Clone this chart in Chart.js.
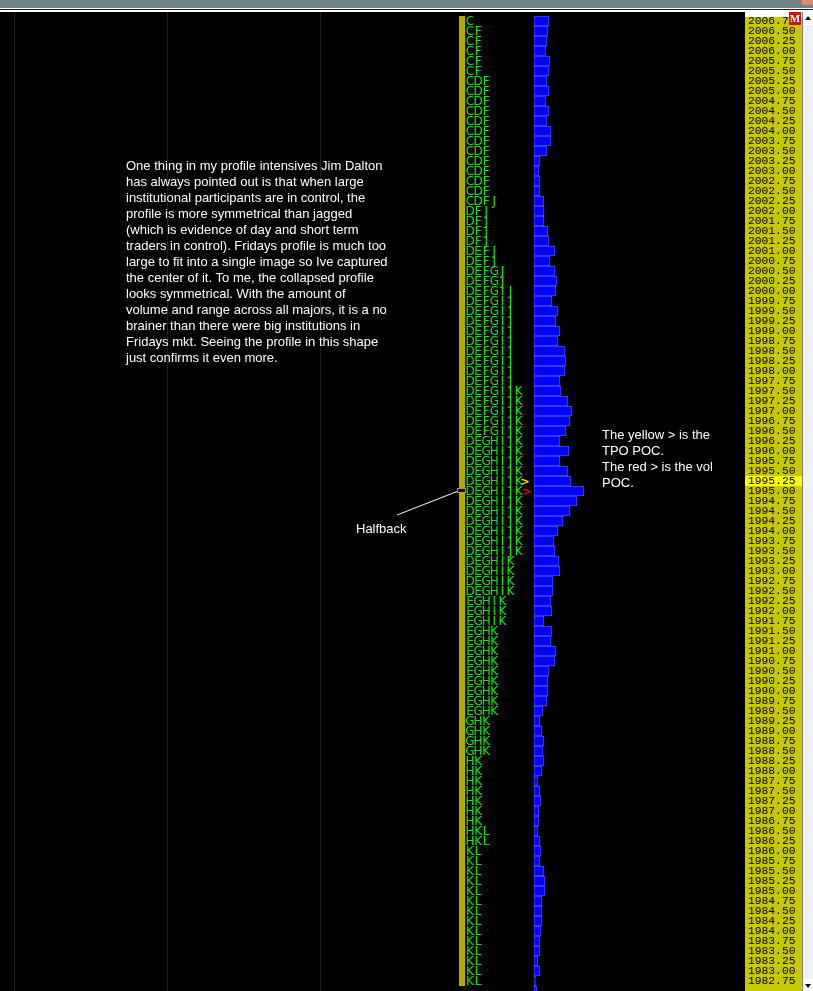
<!DOCTYPE html>
<html>
<head>
<meta charset="utf-8">
<title>Market profile</title>
<style>
  html, body { margin: 0; padding: 0; background: #000; overflow: hidden; }
  canvas { display: block; }
</style>
<script src="https://cdn.jsdelivr.net/npm/chart.js@4"></script>
</head>
<body>
<canvas id="profileChart" width="813" height="991"></canvas>
<script>
const prices = [
    2006.75, 2006.50, 2006.25, 2006.00, 2005.75, 2005.50, 2005.25, 2005.00, 2004.75, 2004.50,
    2004.25, 2004.00, 2003.75, 2003.50, 2003.25, 2003.00, 2002.75, 2002.50, 2002.25, 2002.00,
    2001.75, 2001.50, 2001.25, 2001.00, 2000.75, 2000.50, 2000.25, 2000.00, 1999.75, 1999.50,
    1999.25, 1999.00, 1998.75, 1998.50, 1998.25, 1998.00, 1997.75, 1997.50, 1997.25, 1997.00,
    1996.75, 1996.50, 1996.25, 1996.00, 1995.75, 1995.50, 1995.25, 1995.00, 1994.75, 1994.50,
    1994.25, 1994.00, 1993.75, 1993.50, 1993.25, 1993.00, 1992.75, 1992.50, 1992.25, 1992.00,
    1991.75, 1991.50, 1991.25, 1991.00, 1990.75, 1990.50, 1990.25, 1990.00, 1989.75, 1989.50,
    1989.25, 1989.00, 1988.75, 1988.50, 1988.25, 1988.00, 1987.75, 1987.50, 1987.25, 1987.00,
    1986.75, 1986.50, 1986.25, 1986.00, 1985.75, 1985.50, 1985.25, 1985.00, 1984.75, 1984.50,
    1984.25, 1984.00, 1983.75, 1983.50, 1983.25, 1983.00, 1982.75, 1982.50
];

const volumes = [
    15, 14, 13, 12, 16, 15, 13, 15, 12, 15,
    13, 17, 17, 13, 6, 5, 6, 6, 10, 10,
    10, 14, 15, 21, 16, 21, 23, 22, 18, 24,
    22, 26, 24, 31, 32, 31, 26, 27, 34, 38,
    36, 32, 26, 35, 26, 34, 37, 50, 43, 36,
    29, 24, 20, 21, 25, 26, 19, 19, 17, 18,
    10, 18, 17, 22, 21, 15, 14, 14, 13, 9,
    6, 8, 10, 9, 10, 8, 4, 6, 7, 5,
    5, 4, 6, 7, 6, 10, 11, 11, 8, 8,
    8, 7, 6, 6, 4, 6, 2, 3
];

const tpoLetters = [
    'C', 'CF', 'CF', 'CF', 'CF', 'CF',
    'CDF', 'CDF', 'CDF', 'CDF', 'CDF', 'CDF', 'CDF', 'CDF', 'CDF', 'CDF', 'CDF', 'CDF',
    'CDFJ', 'DFJ', 'DFJ', 'DFJ', 'DFJ', 'DEFJ', 'DEFJ', 'DEFGJ', 'DEFGJ',
    'DEFGIJ', 'DEFGIJ', 'DEFGIJ', 'DEFGIJ', 'DEFGIJ', 'DEFGIJ', 'DEFGIJ', 'DEFGIJ', 'DEFGIJ', 'DEFGIJ',
    'DEFGIJK', 'DEFGIJK', 'DEFGIJK', 'DEFGIJK', 'DEFGIJK',
    'DEGHIJK', 'DEGHIJK', 'DEGHIJK', 'DEGHIJK', 'DEGHIJK', 'DEGHIJK',
    'DEGHIJK', 'DEGHIJK', 'DEGHIJK', 'DEGHIJK', 'DEGHIJK', 'DEGHIJK',
    'DEGHIK', 'DEGHIK', 'DEGHIK', 'DEGHIK', 'EGHIK', 'EGHIK', 'EGHIK',
    'EGHK', 'EGHK', 'EGHK', 'EGHK', 'EGHK', 'EGHK', 'EGHK', 'EGHK', 'EGHK',
    'GHK', 'GHK', 'GHK', 'GHK', 'HK', 'HK', 'HK', 'HK', 'HK', 'HK', 'HK', 'HKL', 'HKL',
    'KL', 'KL', 'KL', 'KL', 'KL', 'KL', 'KL', 'KL', 'KL', 'KL', 'KL', 'KL', 'KL', 'KL'
];

const priceTicks = prices.slice(0, 97);
const gridLines = [-520, -367, -214, -69];
const currentPrice = 1995.25;
const tpoPocPrice = 1995.25;
const volPocPrice = 1995.00;

const mainNote = [
    'One thing in my profile intensives Jim Dalton',
    'has always pointed out is that when large',
    'institutional participants are in control, the',
    'profile is more symmetrical than jagged',
    '(which is evidence of day and short term',
    'traders in control). Fridays profile is much too',
    'large to fit into a single image so Ive captured',
    'the center of it. To me, the collapsed profile',
    'looks symmetrical. With the amount of',
    'volume and range across all majors, it is a no',
    'brainer than there were big institutions in',
    'Fridays mkt. Seeing the profile in this shape',
    'just confirms it even more.'
];
const pocNote = ['The yellow > is the', 'TPO POC.', 'The red > is the vol', 'POC.'];

const noteFont = '13px "Liberation Sans", Arial, sans-serif';

// Black panel, price column and the yellow current price row
const panelPlugin = {
    id: 'panel',
    beforeDraw(chart) {
        const ctx = chart.ctx;
        const y = chart.scales.y;
        ctx.save();
        ctx.fillStyle = '#000';
        ctx.fillRect(0, 0, 813, 991);
        ctx.fillStyle = '#fff';
        ctx.fillRect(745, 12, 57, 5);
        ctx.fillStyle = '#c8c800';
        ctx.fillRect(745, 17, 57, 974);
        ctx.fillStyle = '#ffff00';
        ctx.fillRect(745, y.getPixelForValue(currentPrice) - 5, 57, 10);
        ctx.restore();
    }
};

// TPO letters, notes and window furniture
const overlayPlugin = {
    id: 'overlay',
    afterDatasetsDraw(chart) {
        const ctx = chart.ctx;
        const x = chart.scales.x;
        const y = chart.scales.y;
        ctx.save();

        // Value column left of the letters
        ctx.fillStyle = '#b4aa00';
        ctx.fillRect(x.getPixelForValue(-75), y.getPixelForValue(2006.75) - 5, 6, 970);

        ctx.font = '12px "DejaVu Sans", sans-serif';
        ctx.fillStyle = '#00f000';
        ctx.textAlign = 'center';
        ctx.textBaseline = 'middle';
        tpoLetters.forEach((letters, i) => {
            const py = y.getPixelForValue(prices[i]) + 1;
            letters.split('').forEach((ch, j) => {
                ctx.fillText(ch, 470 + j * 8.1, py);
            });
        });

        // POC arrows
        ctx.font = 'bold 11px "DejaVu Sans", sans-serif';
        ctx.fillStyle = '#ffe000';
        ctx.fillText('>', 525, y.getPixelForValue(tpoPocPrice) + 1);
        ctx.fillStyle = '#ff0000';
        ctx.fillText('>', 527, y.getPixelForValue(volPocPrice) + 1);

        // Halfback marker and its line
        ctx.strokeStyle = '#fff';
        ctx.lineWidth = 1;
        ctx.beginPath();
        ctx.moveTo(397, 515);
        ctx.lineTo(457, 491.5);
        ctx.stroke();
        ctx.fillStyle = '#000';
        ctx.strokeStyle = '#b4aa00';
        ctx.fillRect(457.5, 488.5, 8, 4);
        ctx.strokeRect(457.5, 488.5, 8, 4);

        ctx.font = noteFont;
        ctx.fillStyle = '#fff';
        ctx.textAlign = 'left';
        ctx.textBaseline = 'alphabetic';
        mainNote.forEach((line, i) => ctx.fillText(line, 126, 170 + i * 16));
        pocNote.forEach((line, i) => ctx.fillText(line, 602, 439 + i * 16));
        ctx.fillText('Halfback', 356, 533);
        ctx.restore();
    },
    afterDraw(chart) {
        const ctx = chart.ctx;
        ctx.save();

        // Window strip at the top
        ctx.fillStyle = '#6f8585';
        ctx.fillRect(0, 0, 813, 8);
        ctx.fillStyle = '#d98a70';
        ctx.fillRect(802, 0, 11, 5);
        ctx.fillStyle = '#fff';
        ctx.fillRect(0, 8, 813, 1);
        ctx.fillRect(0, 10, 813, 2);
        ctx.fillStyle = '#222';
        ctx.fillRect(0, 9, 813, 1);

        // M badge
        ctx.fillStyle = '#d01010';
        ctx.fillRect(789, 12, 12, 13);
        ctx.fillStyle = '#fff';
        ctx.font = 'bold 11px "Liberation Serif", serif';
        ctx.textAlign = 'center';
        ctx.textBaseline = 'middle';
        ctx.fillText('M', 795, 19);

        // Scrollbar
        ctx.fillStyle = '#808080';
        ctx.fillRect(802, 12, 1, 979);
        ctx.fillStyle = '#f1f1f1';
        ctx.fillRect(803, 12, 10, 979);
        ctx.fillStyle = '#fff';
        ctx.fillRect(803, 12, 10, 13);
        ctx.fillRect(803, 979, 10, 12);
        ctx.fillStyle = '#000';
        ctx.beginPath();
        ctx.moveTo(808, 16);
        ctx.lineTo(811, 20);
        ctx.lineTo(805, 20);
        ctx.fill();
        ctx.beginPath();
        ctx.moveTo(805, 984);
        ctx.lineTo(811, 984);
        ctx.lineTo(808, 988);
        ctx.fill();
        ctx.restore();
    }
};

new Chart(document.getElementById('profileChart'), {
    type: 'bar',
    data: {
        datasets: [{
            data: prices.map((p, i) => ({ x: volumes[i], y: p })),
            backgroundColor: '#0000ff',
            borderColor: '#4a4aff',
            borderWidth: 1,
            borderSkipped: false,
            barThickness: 10
        }]
    },
    options: {
        indexAxis: 'y',
        responsive: false,
        animation: false,
        layout: { autoPadding: false, padding: { top: 12, bottom: 0, left: 0, right: 0 } },
        plugins: {
            legend: { display: false },
            tooltip: { enabled: false },
            title: { display: false }
        },
        scales: {
            x: {
                type: 'linear',
                min: -534,
                max: 210,
                border: { display: false },
                ticks: { display: false },
                grid: { color: '#202020', drawTicks: false },
                afterBuildTicks: scale => { scale.ticks = gridLines.map(v => ({ value: v })); },
                afterFit: scale => { scale.height = 0; }
            },
            y: {
                type: 'linear',
                position: 'right',
                offset: false,
                min: 1982.5,
                max: 2006.975,
                border: { display: false },
                grid: { display: false, drawTicks: false, offset: false },
                ticks: {
                    autoSkip: false,
                    padding: 4,
                    color: '#000',
                    font: { family: '"Liberation Mono", monospace', size: 11.3 },
                    callback: v => v.toFixed(2)
                },
                afterBuildTicks: scale => { scale.ticks = priceTicks.map(v => ({ value: v })); },
                afterFit: scale => {
                    scale.width = 69;
                    scale.paddingTop = 0;
                    scale.paddingBottom = 0;
                }
            }
        }
    },
    plugins: [panelPlugin, overlayPlugin]
});
</script>
</body>
</html>
